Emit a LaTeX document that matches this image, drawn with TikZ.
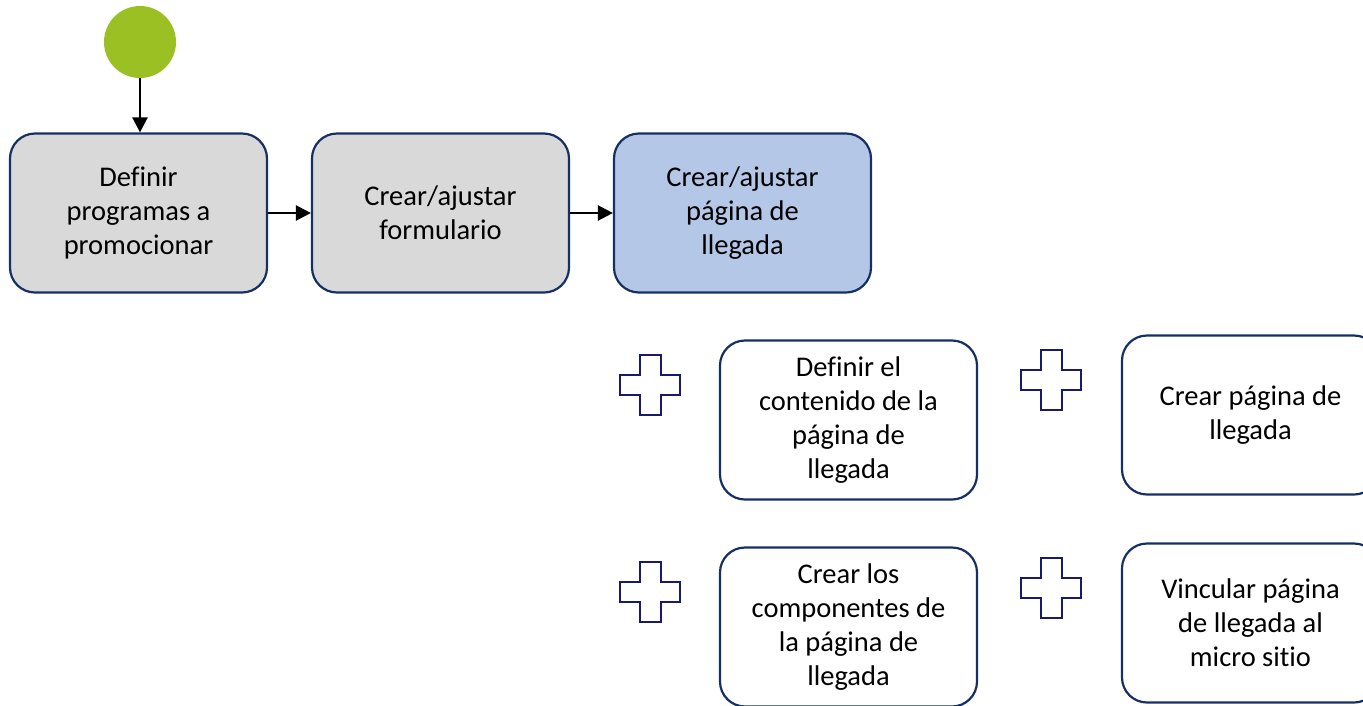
\documentclass[tikz,border=0pt]{standalone}
\usepackage{fontspec}
\setmainfont[Ligatures=NoCommon]{Carlito}
\usetikzlibrary{arrows.meta}
\definecolor{boxborder}{RGB}{22,48,100}
\definecolor{plusc}{RGB}{25,25,110}
\definecolor{startg}{RGB}{155,192,35}
\definecolor{greyfill}{RGB}{217,217,217}
\definecolor{bluefill}{RGB}{180,199,231}
\tikzset{
  task/.style={draw=boxborder, line width=2.2pt, rounded corners=25pt,
    minimum width=257pt, minimum height=159pt, align=center,
    font=\fontsize{28.5}{34}\selectfont, inner sep=0pt},
  flow/.style={line width=2.4pt, -{Triangle[length=15pt,width=15pt]}},
  plus/.pic={\draw[plusc, line width=2pt]
    (-10.5,-30) -- (10.5,-30) -- (10.5,-10) -- (30,-10) -- (30,10) -- (10.5,10)
    -- (10.5,30) -- (-10.5,30) -- (-10.5,10) -- (-30,10) -- (-30,-10) -- (-10.5,-10) -- cycle;}
}
\begin{document}
\begin{tikzpicture}[x=1pt,y=-1pt]
\useasboundingbox (0,0) rectangle (1363,705);
\node[circle, fill=startg, minimum size=72pt, inner sep=0pt] (start) at (140,42) {};
\node[task, fill=greyfill] (b1) at (138.5,213) {Definir\\programas a\\promocionar};
\node[task, fill=greyfill] (b2) at (440.5,213) {Crear/ajustar\\formulario};
\node[task, fill=bluefill] (b3) at (742.5,213) {Crear/ajustar\\página de\\llegada};
\node[task, fill=white] (b4) at (848.5,420) {Definir el\\contenido de la\\página de\\llegada};
\node[task, fill=white] (b5) at (1250.5,415) {Crear página de\\llegada};
\node[task, fill=white] (b6) at (848.5,627) {Crear los\\componentes de\\la página de\\llegada};
\node[task, fill=white] (b7) at (1250.5,623) {Vincular página\\de llegada al\\micro sitio};
\draw[flow] (start.south) -- (start.south |- b1.north);
\draw[flow] (b1.east) -- (b2.west);
\draw[flow] (b2.east) -- (b3.west);
\pic at (650,385) {plus};
\pic at (1051,380) {plus};
\pic at (650,592) {plus};
\pic at (1051,588) {plus};
\end{tikzpicture}
\end{document}
